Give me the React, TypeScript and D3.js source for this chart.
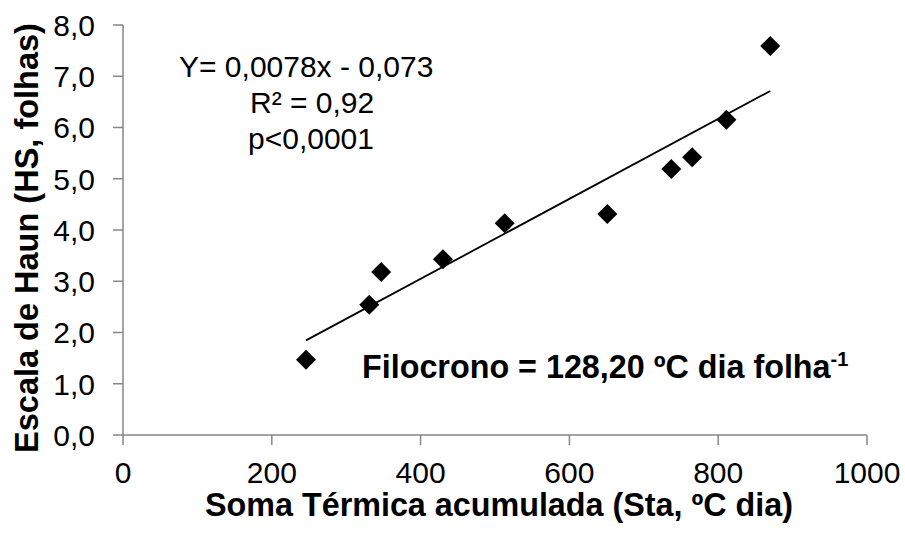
import React from "react";
import * as d3 from "d3";

const sumTermica = [246, 331, 347, 430, 513, 651, 737, 765, 811, 870];
const haun = [1.47, 2.54, 3.18, 3.43, 4.13, 4.31, 5.19, 5.42, 6.15, 7.59];
const xTicks = [0, 200, 400, 600, 800, 1000];
const yTicks = [0, 1, 2, 3, 4, 5, 6, 7, 8];
const slope = 0.0078;
const intercept = -0.073;
const eqLines = ["Y= 0,0078x - 0,073", "R² = 0,92", "p<0,0001"];

const W = 905;
const H = 535;
const FONT = "Arial, 'Liberation Sans', sans-serif";

export default function App() {
  const x = d3.scaleLinear().domain([0, 1000]).range([123, 867]);
  const y = d3.scaleLinear().domain([0, 8]).range([435, 25]);
  const axisColor = "#868686";
  const diamond = d3.symbol().type(d3.symbolSquare).size(200)();
  const xmin = d3.min(sumTermica) as number;
  const xmax = d3.max(sumTermica) as number;
  const fmt = (v: number) => v.toFixed(1).replace(".", ",");
  const eqX = [179, 250, 248];

  return (
    <svg
      width={W}
      height={H}
      style={{ position: "absolute", left: 0, top: 0, background: "#fff" }}
      fontFamily={FONT}
    >
      {/* axes */}
      <line x1={x(0)} x2={x(0)} y1={y(0)} y2={y(8)} stroke={axisColor} strokeWidth={1.5} />
      <line x1={x(0)} x2={x(1000)} y1={y(0)} y2={y(0)} stroke={axisColor} strokeWidth={1.5} />
      {yTicks.map((t) => (
        <g key={"y" + t}>
          <line x1={x(0) - 10} x2={x(0)} y1={y(t)} y2={y(t)} stroke={axisColor} strokeWidth={1.5} />
          <text x={95} y={y(t)} dy="0.36em" textAnchor="end" fontSize={30} fill="#000">
            {fmt(t)}
          </text>
        </g>
      ))}
      {xTicks.map((t) => (
        <g key={"x" + t}>
          <line x1={x(t)} x2={x(t)} y1={y(0)} y2={y(0) + 10} stroke={axisColor} strokeWidth={1.5} />
          <text x={x(t)} y={483} textAnchor="middle" fontSize={30} fill="#000">
            {t}
          </text>
        </g>
      ))}

      {/* trend line */}
      <line
        x1={x(xmin)}
        y1={y(slope * xmin + intercept)}
        x2={x(xmax)}
        y2={y(slope * xmax + intercept)}
        stroke="#000"
        strokeWidth={1.8}
      />

      {/* points */}
      {sumTermica.map((v, i) => (
        <path
          key={"p" + i}
          d={diamond as string}
          transform={`translate(${x(v)},${y(haun[i])}) rotate(45)`}
          fill="#000"
        />
      ))}

      {/* equation */}
      {eqLines.map((s, i) => (
        <text key={"e" + i} x={eqX[i]} y={77 + i * 36} fontSize={30} fill="#000">
          {s}
        </text>
      ))}

      <text x={362} y={378} fontSize={32.3} fontWeight="bold" fill="#000">
        Filocrono = 128,20 ºC dia folha
        <tspan fontSize={20} dy={-12}>-1</tspan>
      </text>

      {/* axis titles */}
      <text x={499} y={516} textAnchor="middle" fontSize={32.3} fontWeight="bold" fill="#000">
        Soma Térmica acumulada (Sta, ºC dia)
      </text>
      <text
        transform={`translate(38,${238}) rotate(-90)`}
        textAnchor="middle"
        fontSize={32.5}
        fontWeight="bold"
        fill="#000"
      >
        Escala de Haun (HS, folhas)
      </text>
    </svg>
  );
}
